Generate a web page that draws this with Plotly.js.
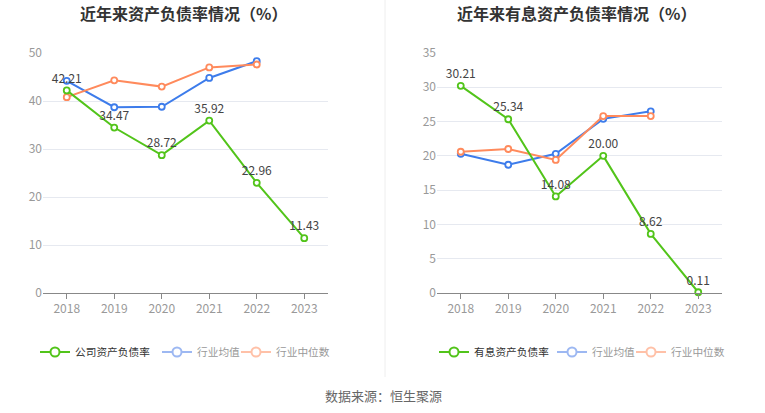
<!DOCTYPE html>
<html>
<head>
<meta charset="utf-8">
<script src="https://cdn.plot.ly/plotly-3.0.1.min.js"></script>
<style>html,body{margin:0;padding:0;background:#fff;}#chart{width:765px;height:413px;}</style>
</head>
<body>
<div id="chart"></div>
<script>
const years = ['2018','2019','2020','2021','2022','2023'];
const companyDebt = [42.21, 34.47, 28.72, 35.92, 22.96, 11.43];
const industryAvgDebt = [44.2, 38.7, 38.8, 44.8, 48.3, null];
const industryMedDebt = [40.8, 44.3, 43.0, 47.0, 47.6, null];
const interestDebt = [30.21, 25.34, 14.08, 20.00, 8.62, 0.11];
const industryAvgInterest = [20.3, 18.7, 20.3, 25.4, 26.5, null];
const industryMedInterest = [20.6, 21.0, 19.4, 25.8, 25.8, null];
const leftTicks = [0, 10, 20, 30, 40, 50];
const rightTicks = [0, 5, 10, 15, 20, 25, 30, 35];

const GREEN = '#52C41A', BLUE = '#3D7CEB', ORANGE = '#FF8A5C';
const FONT = '"Noto Sans CJK SC", "Noto Sans", sans-serif';

function series(y, color, xa, ya, withText) {
  const t = {
    x: years, y: y, xaxis: xa, yaxis: ya, type: 'scatter', mode: withText ? 'lines+markers+text' : 'lines+markers',
    line: {color: color, width: 2},
    marker: {symbol: 'circle', size: 6, color: '#fff', line: {color: color, width: 1.8}},
    showlegend: false, hoverinfo: 'skip', cliponaxis: false
  };
  if (withText) {
    t.text = y.map(v => v.toFixed(2));
    t.textposition = 'top center';
    t.textfont = {family: FONT, size: 12, color: '#444'};
  }
  return t;
}
function legendItem(name, color, textColor, legend) {
  return {
    x: [null], y: [null], type: 'scatter', mode: 'lines+markers',
    name: '<span style="color:' + textColor + '">' + name + '</span>',
    line: {color: color, width: 2},
    marker: {symbol: 'circle', size: 9, color: '#fff', line: {color: color, width: 2}},
    legend: legend, xaxis: 'x', yaxis: 'y', hoverinfo: 'skip'
  };
}

const data = [
  series(industryAvgDebt, BLUE, 'x', 'y', false),
  series(industryMedDebt, ORANGE, 'x', 'y', false),
  series(companyDebt, GREEN, 'x', 'y', true),
  series(industryAvgInterest, BLUE, 'x2', 'y2', false),
  series(industryMedInterest, ORANGE, 'x2', 'y2', false),
  series(interestDebt, GREEN, 'x2', 'y2', true),
  legendItem('公司资产负债率', GREEN, '#333', 'legend'),
  legendItem('行业均值', '#9DB8F2', '#999', 'legend2'),
  legendItem('行业中位数', '#FFC1A8', '#999', 'legend3'),
  legendItem('有息资产负债率', GREEN, '#333', 'legend4'),
  legendItem('行业均值', '#9DB8F2', '#999', 'legend5'),
  legendItem('行业中位数', '#FFC1A8', '#999', 'legend6')
];

const xCommon = {
  type: 'category', range: [-0.5, 5.5], showgrid: false, zeroline: false, showline: true, linecolor: '#888', linewidth: 1,
  ticks: 'outside', ticklen: 5, tickcolor: '#888',
  tickfont: {family: FONT, size: 12, color: '#999'}, fixedrange: true
};
const yCommon = {
  showgrid: true, gridcolor: '#E6E9F0', gridwidth: 1, zeroline: false, showline: false, ticks: '',
  tickfont: {family: FONT, size: 12, color: '#999'}, fixedrange: true
};
function leg(px) {
  return {orientation: 'h', x: px/765, y: 61/413, xanchor: 'left', yanchor: 'middle',
    font: {family: FONT, size: 10.7, color: '#333'}, bgcolor: 'rgba(0,0,0,0)', itemwidth: 30};
}

const layout = {
  width: 765, height: 413,
  margin: {l: 0, r: 0, t: 0, b: 0},
  paper_bgcolor: '#fff', plot_bgcolor: '#fff',
  font: {family: FONT},
  xaxis: Object.assign({}, xCommon, {domain: [43/765, 328/765], anchor: 'y'}),
  yaxis: Object.assign({}, yCommon, {domain: [120/413, 360/413], range: [0, 50], tickvals: leftTicks, anchor: 'x'}),
  xaxis2: Object.assign({}, xCommon, {domain: [437/765, 722/765], anchor: 'y2'}),
  yaxis2: Object.assign({}, yCommon, {domain: [120/413, 360/413], range: [0, 35], tickvals: rightTicks, anchor: 'x2'}),
  legend: leg(35), legend2: leg(157), legend3: leg(236),
  legend4: leg(434), legend5: leg(552), legend6: leg(631),
  shapes: [
    {type: 'line', xref: 'paper', yref: 'paper', x0: 385/765, x1: 385/765, y0: 1 - 377/413, y1: 1, line: {color: '#EEEEEE', width: 1}}
  ],
  annotations: [
    {text: '<b>近年来资产负债率情况（%）</b>', xref: 'paper', yref: 'paper', x: 183/765, y: 1 - 13/413, xanchor: 'center', yanchor: 'middle', showarrow: false, font: {family: FONT, size: 16, color: '#333'}},
    {text: '<b>近年来有息资产负债率情况（%）</b>', xref: 'paper', yref: 'paper', x: 576/765, y: 1 - 13/413, xanchor: 'center', yanchor: 'middle', showarrow: false, font: {family: FONT, size: 16, color: '#333'}},
    {text: '数据来源：恒生聚源', xref: 'paper', yref: 'paper', x: 383/765, y: 1 - 395/413, xanchor: 'center', yanchor: 'middle', showarrow: false, font: {family: FONT, size: 13, color: '#666'}}
  ]
};

Plotly.newPlot('chart', data, layout, {displayModeBar: false, staticPlot: true});
</script>
</body>
</html>
